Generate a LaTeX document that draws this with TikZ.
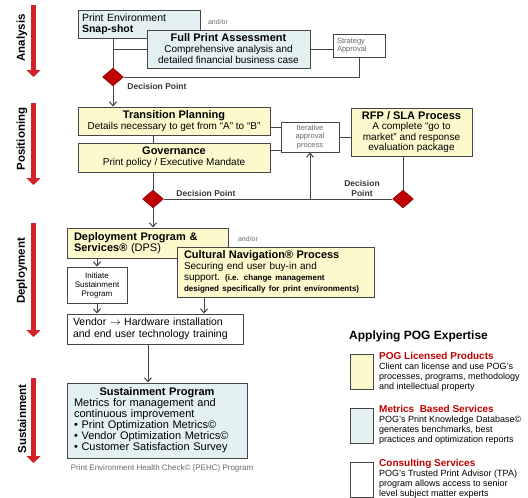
\documentclass[tikz,border=0pt]{standalone}
\usepackage{fontspec}
\setmainfont{Liberation Sans}
\usetikzlibrary{arrows.meta,shapes.geometric}

\definecolor{pogred}{RGB}{192,0,0}
\definecolor{arrowred}{RGB}{210,34,42}
\definecolor{boxyellow}{RGB}{252,250,204}
\definecolor{boxblue}{RGB}{228,241,243}
\definecolor{linegrey}{RGB}{70,70,70}
\definecolor{textgrey}{RGB}{105,105,105}
\definecolor{labelgrey}{RGB}{55,55,55}

\newcommand{\boxtitle}[1]{{\fontsize{11}{11}\selectfont\bfseries #1}}
\newcommand{\smallnote}[1]{\mbox{\bfseries\fontsize{8}{9}\selectfont #1}}

\tikzset{
  box/.style={draw=linegrey, line width=1pt, inner xsep=4pt, inner ysep=2pt,
    font=\fontsize{10}{11}\selectfont},
  yellowbox/.style={box, fill=boxyellow},
  bluebox/.style={box, fill=boxblue},
  whitebox/.style={box, fill=white},
  smallgrey/.style={font=\fontsize{7.5}{8.5}\selectfont, text=textgrey},
  andor/.style={font=\fontsize{7}{8}\selectfont, text=textgrey, inner sep=1pt},
  decision/.style={diamond, draw=red!45!black, fill=pogred, minimum width=21pt,
    minimum height=18pt, inner sep=0pt},
  dlabel/.style={font=\bfseries\fontsize{8.5}{10}\selectfont, text=labelgrey, inner sep=1pt},
  conn/.style={draw=linegrey, line width=1pt},
  arr/.style={conn, -{Straight Barb[length=4pt,width=7pt]}},
  phase/.style={draw=arrowred, line width=5pt, -{Triangle[width=14pt,length=7pt]}},
  phaselabel/.style={rotate=90, font=\bfseries\fontsize{11.5}{12}\selectfont},
  legendtext/.style={anchor=north west, align=left, inner sep=0pt,
    font=\fontsize{9}{10}\selectfont}
}

\begin{document}
\begin{tikzpicture}[x=1pt,y=-1pt]
    \path[use as bounding box, fill=white] (0,0) rectangle (528,498);

    % Phasenpfeile am linken Rand
    \foreach \ya/\yb/\yl/\name in {5/77/38/Analysis, 103/185/139/Positioning,
        223/337/271/Deployment, 378/463/419/Sustainment} {
        \draw[phase] (33.5,\ya) -- (33.5,\yb);
        \node[phaselabel] (lbl\name) at (22,\yl) {\name};
    }

    % Analyse
    \node[bluebox, text width=114pt, minimum height=28pt, align=left,
        font=\fontsize{10.5}{11}\selectfont] (snap) at (139,24)
        {Print Environment\\\textbf{Snap-shot}};
    \node[andor] (ao1) at (218,22) {and/or};
    \node[bluebox, minimum width=163pt, minimum height=38pt, align=center] (fpa) at (228.5,49)
        {\boxtitle{Full Print Assessment}\\Comprehensive analysis and\\detailed financial business case};
    \node[whitebox, smallgrey, text width=44pt, minimum height=23pt, align=left] (sa) at (359,45.5)
        {Strategy\\Approval};
    \node[decision] (d1) at (113,77) {};
    \node[dlabel] (dl1) at (157,86) {Decision Point};

    \draw[conn] (d1 |- snap.south) -- (d1.north);
    \draw[conn] (fpa.west) -- (fpa.west -| d1);
    \draw[conn] (fpa.east) -- (fpa.east -| sa.west);
    \draw[conn] (sa.south) |- (d1.east);

    % Positionierung
    \node[yellowbox, minimum width=192pt, minimum height=28pt, align=center] (tp) at (174,121)
        {\boxtitle{Transition Planning}\\Details necessary to get from “A” to “B”};
    \node[yellowbox, minimum width=192pt, minimum height=29pt, align=center] (gov) at (174,157.5)
        {\boxtitle{Governance}\\Print policy / Executive Mandate};
    \node[whitebox, smallgrey, minimum width=58pt, minimum height=30pt, align=center] (iap) at (310,137)
        {Iterative\\approval\\process};
    \node[yellowbox, minimum width=121pt, minimum height=48pt, align=center,
        font=\fontsize{10}{10.5}\selectfont] (rfp) at (411.5,132)
        {\boxtitle{RFP / SLA Process}\\A complete “go to\\market” and response\\evaluation package};
    \node[decision] (d2) at (153,199) {};
    \node[decision] (d3) at (403,199) {};
    \node[dlabel] (dl2) at (206,193) {Decision Point};
    \node[dlabel, align=center] (dl3) at (362,188) {Decision\\Point};

    \coordinate (ia1) at (0,127);
    \coordinate (ia2) at (0,150);
    \draw[arr] (d1.south) -- (d1 |- tp.north);
    \draw[conn] (tp.south -| d2) -- (gov.north -| d2);
    \draw[conn] (tp.east |- ia1) -- (iap.west |- ia1);
    \draw[conn] (gov.east |- ia2) -- (iap.west |- ia2);
    \draw[conn] (iap.east) -- (iap.east -| rfp.west);
    \draw[conn] (d2 |- gov.south) -- (d2.north);
    \draw[conn] (d3 |- rfp.south) -- (d3.north);
    \draw[conn] (d2.east) -- (d3.west);
    \draw[arr] (iap |- d2) -- (iap.south);

    % Deployment
    \node[yellowbox, text width=147pt, minimum height=30pt, align=left, inner xsep=7pt,
        font=\fontsize{11}{11}\selectfont] (dps) at (147.5,243)
        {\textbf{Deployment Program \&}\\\textbf{Services®} (DPS)};
    \node[andor] (ao2) at (248,239) {and/or};
    \node[yellowbox, text width=183pt, minimum height=50pt, align=left, inner xsep=7pt] (cn) at (275.5,272)
        {\boxtitle{Cultural Navigation® Process}\\Securing end user buy-in and\\support.
        \smallnote{(i.e. change management}\\\smallnote{designed specifically for print environments)}};
    \node[whitebox, minimum width=60pt, minimum height=36pt, align=center, inner xsep=2pt,
        font=\fontsize{8}{9}\selectfont] (isp) at (97,285)
        {Initiate\\Sustainment\\Program};
    \node[whitebox, text width=164pt, minimum height=30pt, align=left, inner xsep=6pt,
        font=\fontsize{10.5}{12}\selectfont] (vend) at (155,329)
        {\mbox{Vendor $\rightarrow$ Hardware installation}\\\mbox{and end user technology training}};

    \coordinate (cnx) at (204,0);
    \coordinate (spx) at (148,0);
    \draw[arr] (d2.south) -- (d2 |- dps.north);
    \draw[arr] (isp.north |- dps.south) -- (isp.north);
    \draw[arr] (isp.south) -- (isp.south |- vend.north);
    \draw[arr] (cn.south -| cnx) -- (vend.north -| cnx);

    % Sustainment
    \node[bluebox, text width=166pt, minimum height=75pt, inner xsep=7pt,
        font=\fontsize{11}{11}\selectfont] (sp) at (157,420.5)
        {{\centering\textbf{Sustainment Program}\par}\raggedright
        Metrics for management and\\continuous improvement\\
        \textbullet\ Print Optimization Metrics©\\
        \textbullet\ Vendor Optimization Metrics©\\
        \textbullet\ Customer Satisfaction Survey};
    \node[text=textgrey, font=\fontsize{8}{9}\selectfont, inner sep=0pt] (pehc) at (162,468)
        {Print Environment Health Check© (PEHC) Program};
    \draw[arr] (vend.south -| spx) -- (sp.north -| spx);

    % Legende
    \node[anchor=west, inner sep=0pt, font=\bfseries\fontsize{12}{13}\selectfont] (lgtitle) at (349,336)
        {Applying POG Expertise};
    \node[yellowbox, minimum width=23pt, minimum height=35pt] (lgy) at (361.5,371.5) {};
    \node[bluebox, minimum width=23pt, minimum height=35pt] (lgb) at (361.5,425.5) {};
    \node[whitebox, minimum width=23pt, minimum height=35pt] (lgw) at (361.5,479.5) {};
    \node[legendtext] (lgyt) at (379,352)
        {{\bfseries\color{pogred}\fontsize{10}{10}\selectfont POG Licensed Products}\\
        Client can license and use POG’s\\processes, programs, methodology\\and intellectual property};
    \node[legendtext] (lgbt) at (379,405)
        {{\bfseries\color{pogred}\fontsize{10}{10}\selectfont Metrics~ Based Services}\\
        POG’s Print Knowledge Database©\\generates benchmarks, best\\practices and optimization reports};
    \node[legendtext] (lgwt) at (379,459)
        {{\bfseries\color{pogred}\fontsize{10}{10}\selectfont Consulting Services}\\
        POG’s Trusted Print Advisor (TPA)\\program allows access to senior\\level subject matter experts};
\end{tikzpicture}
\end{document}
